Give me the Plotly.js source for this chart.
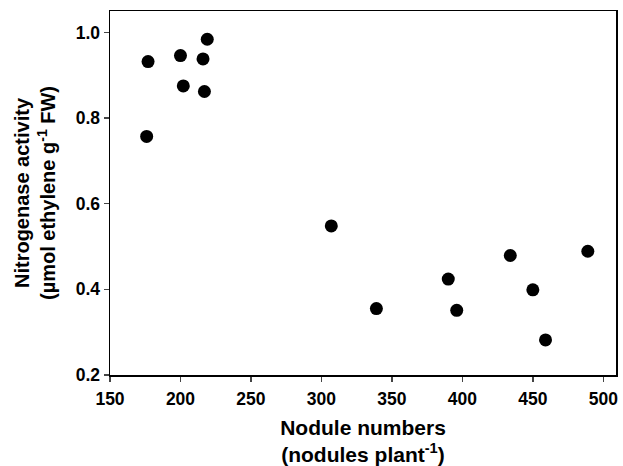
<!DOCTYPE html>
<html>
<head>
<meta charset="utf-8">
<script src="https://cdn.plot.ly/plotly-3.0.1.min.js"></script>
<style>html,body{margin:0;padding:0;background:#fff;}#chart{width:623px;height:466px;}</style>
</head>
<body>
<div id="chart"></div>
<script>
const noduleNumbers = [177, 200, 216, 219, 202, 217, 176, 307, 339, 390, 396, 434, 450, 459, 489];
const nitrogenaseActivity = [0.932, 0.946, 0.938, 0.984, 0.875, 0.862, 0.757, 0.548, 0.355, 0.424, 0.351, 0.479, 0.399, 0.282, 0.489];
const xTicks = [150, 200, 250, 300, 350, 400, 450, 500];
const yTicks = [0.2, 0.4, 0.6, 0.8, 1.0];
const yTickText = ['0.2', '0.4', '0.6', '0.8', '1.0'];

const font = {family: '"Liberation Sans", Arial, sans-serif', color: '#000', weight: 'bold'};

Plotly.newPlot('chart', [{
  x: noduleNumbers,
  y: nitrogenaseActivity,
  mode: 'markers',
  type: 'scatter',
  marker: {color: '#000', size: 13}
}], {
  width: 623, height: 466,
  margin: {l: 110, r: 7, t: 11, b: 91},
  paper_bgcolor: '#fff', plot_bgcolor: '#fff',
  showlegend: false,
  font: font,
  xaxis: {
    range: [150, 509], tickvals: xTicks, ticks: 'outside', ticklen: 5, tickwidth: 1.5,
    showline: true, linecolor: '#000', linewidth: 1.5, mirror: true, showgrid: false, zeroline: false,
    tickfont: Object.assign({}, font, {size: 17.5}), ticklabelstandoff: 2,
    title: {text: 'Nodule numbers<br>(nodules plant<sup>-1</sup>)', font: Object.assign({}, font, {size: 21}), standoff: 15}
  },
  yaxis: {
    range: [0.2, 1.05], tickvals: yTicks, ticktext: yTickText, ticks: 'outside', ticklen: 5, tickwidth: 1.5,
    showline: true, linecolor: '#000', linewidth: 1.5, mirror: true, showgrid: false, zeroline: false,
    tickfont: Object.assign({}, font, {size: 17.5}),
    title: {text: 'Nitrogenase activity<br>(µmol ethylene g<sup>-1</sup> FW)', font: Object.assign({}, font, {size: 20}), standoff: 14}
  }
}, {displayModeBar: false, staticPlot: true});
</script>
</body>
</html>
